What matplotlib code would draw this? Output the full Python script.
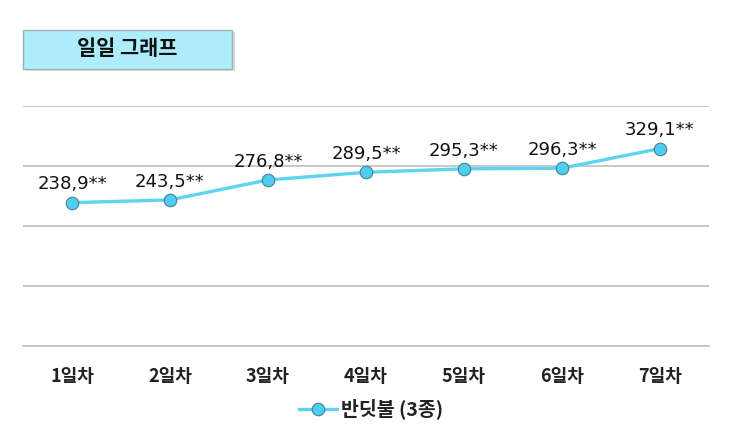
import matplotlib
matplotlib.use("Agg")
import matplotlib.pyplot as plt
from matplotlib.patches import Rectangle

plt.rcParams['font.family'] = ['Noto Sans CJK KR', 'DejaVu Sans']

categories = ["1일차", "2일차", "3일차", "4일차", "5일차", "6일차", "7일차"]
values = [238.9, 243.5, 276.8, 289.5, 295.3, 296.3, 329.1]
labels = ["238,9**", "243,5**", "276,8**", "289,5**", "295,3**", "296,3**", "329,1**"]
series_name = "반딧불 (3종)"
title = "일일 그래프"

fig = plt.figure(figsize=(7.33, 4.4), dpi=100)
ax = fig.add_axes([23/733, 1 - 346/440, (709-23)/733, (346-106)/440])

x = list(range(len(categories)))
ax.plot(x, values, color="#5fd4ee", lw=2.4, marker="o", markersize=9,
        markerfacecolor="#4fcdf0", markeredgecolor="#4a8090", markeredgewidth=0.8,
        label=series_name, zorder=3)
for xi, v, t in zip(x, values, labels):
    ax.annotate(t, (xi, v), xytext=(0, 9.5), textcoords="offset points",
                ha="center", va="baseline", fontsize=13, color="#111111",
                family="DejaVu Sans")

ax.set_xlim(-0.5, 6.5)
ax.set_ylim(0, 400)
ax.set_yticks([0, 100, 200, 300, 400])
ax.yaxis.grid(True, color="#c4c4c4", lw=1.3)
ax.set_axisbelow(True)
ax.tick_params(axis="y", left=False, labelleft=False)
ax.tick_params(axis="x", length=0, pad=15, labelsize=13, labelcolor="#222222")
ax.set_xticks(x)
ax.set_xticklabels(categories, fontweight="bold")
for s in ["top", "left", "right"]:
    ax.spines[s].set_visible(False)
ax.spines["bottom"].set_color("#c4c4c4")
ax.spines["bottom"].set_linewidth(1.3)

leg = fig.legend(loc="center", bbox_to_anchor=(371/733, 1 - 409/440), frameon=False,
                 fontsize=14, handlelength=2.0, handletextpad=0.2)
for t in leg.get_texts():
    t.set_fontweight("bold")
    t.set_color("#222222")

# title box with shadow
fig.patches.append(Rectangle((26/733, 1 - 71/440), (232-23)/733, (69-30)/440,
                             transform=fig.transFigure, facecolor="#dcdcdc",
                             edgecolor="none", zorder=0))
fig.patches.append(Rectangle((23/733, 1 - 69/440), (232-23)/733, (69-30)/440,
                             transform=fig.transFigure, facecolor="#aeeefc",
                             edgecolor="#a0b0b8", lw=1, zorder=1))
fig.text(127/733, 1 - 48.5/440, title, ha="center", va="center", fontsize=15,
         fontweight="bold", color="#111111", zorder=2)

fig.savefig("out.png", dpi=100, facecolor="white")
